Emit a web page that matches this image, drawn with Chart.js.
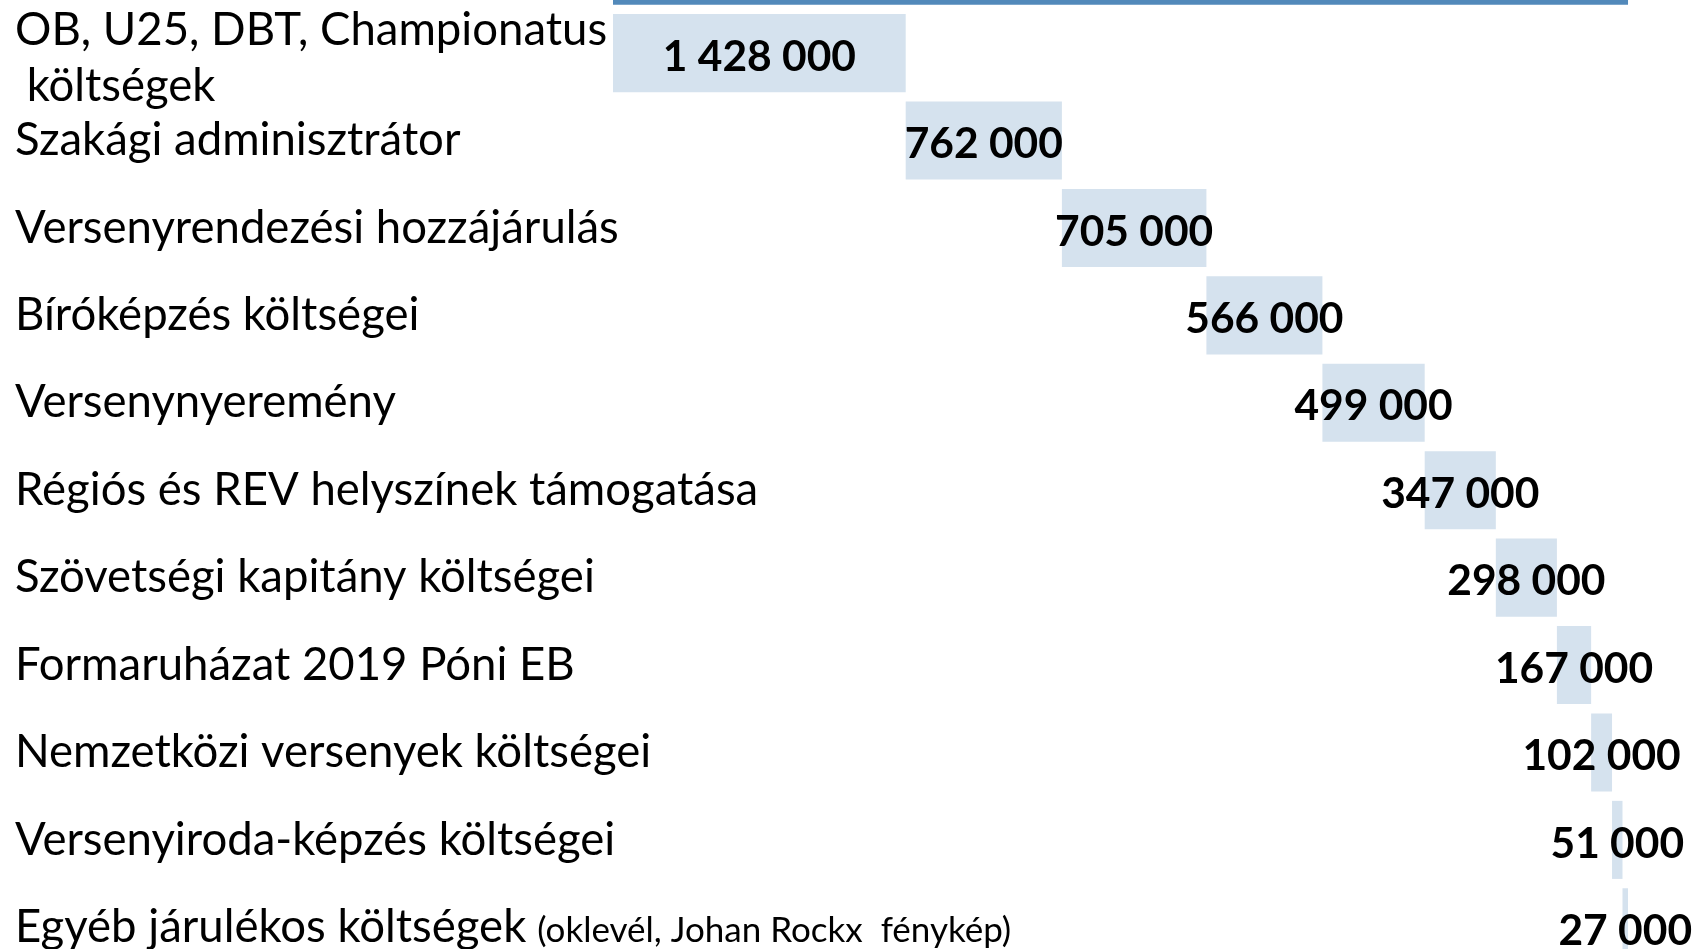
<!DOCTYPE html>
<html>
<head>
<meta charset="utf-8">
<script src="https://cdn.jsdelivr.net/npm/chart.js@4.4.0/dist/chart.umd.min.js"></script>
<style>
  html, body { margin: 0; padding: 0; background: #ffffff; overflow: hidden; width: 1701px; height: 949px; }
  #wrap { position: absolute; left: 0; top: -78px; width: 1701px; height: 1049px; }
</style>
</head>
<body>
<div id="wrap"><canvas id="c"></canvas></div>
<script>
// ---- data ----
const totalLabel = 'Összesen';
const totalValue = 4952000;
const categories = [
  ['OB, U25, DBT, Championatus', ' költségek'],
  ['Szakági adminisztrátor'],
  ['Versenyrendezési hozzájárulás'],
  ['Bíróképzés költségei'],
  ['Versenynyeremény'],
  ['Régiós és REV helyszínek támogatása'],
  ['Szövetségi kapitány költségei'],
  ['Formaruházat 2019 Póni EB'],
  ['Nemzetközi versenyek költségei'],
  ['Versenyiroda-képzés költségei'],
  ['Egyéb járulékos költségek']
];
const categoryNotes = ['', '', '', '', '', '', '', '', '', '', '(oklevél, Johan Rockx  fénykép)'];
const values = [1428000, 762000, 705000, 566000, 499000, 347000, 298000, 167000, 102000, 51000, 27000];

// ---- styles ----
const totalColor = '#5289BA';
const stepColor = '#D5E2EE';
const labelFont = 'Lato';

// build floating bar table (waterfall)
const labels = [totalLabel].concat(categories.map(c => c.join('')));
const ranges = [[0, totalValue]];
let run = 0;
values.forEach(v => { ranges.push([run, run + v]); run += v; });
const colors = [totalColor].concat(values.map(() => stepColor));

function fmt(v) {
  return String(v).replace(/\B(?=(\d{3})+(?!\d))/g, ' ');
}

const labelPlugin = {
  id: 'labels',
  afterDatasetsDraw(chart) {
    const ctx = chart.ctx;
    const yScale = chart.scales.y;
    const meta = chart.getDatasetMeta(0);
    ctx.save();
    ctx.fillStyle = '#000000';
    ctx.textBaseline = 'middle';
    // category labels
    for (let i = 0; i < categories.length; i++) {
      const yc = yScale.getPixelForValue(i + 1);
      const lines = categories[i];
      const lh = 56;
      const y0 = yc - (lines.length - 1) * lh / 2 + (lines.length > 1 ? 5 : 0);
      ctx.textAlign = 'left';
      lines.forEach((ln, k) => {
        ctx.font = '400 45.5px ' + labelFont;
        ctx.fillText(ln, 15, y0 + k * lh);
        if (k === lines.length - 1 && categoryNotes[i]) {
          const w = ctx.measureText(ln).width;
          ctx.font = '400 35px ' + labelFont;
          ctx.fillText(categoryNotes[i], 15 + w + 11, y0 + k * lh + 3);
        }
      });
    }
    // value labels
    ctx.font = '700 42.5px ' + labelFont;
    ctx.textAlign = 'center';
    for (let i = 0; i < values.length; i++) {
      const el = meta.data[i + 1];
      const cx = (el.x + el.base) / 2;
      ctx.fillText(fmt(values[i]), cx, el.y + 4);
    }
    ctx.restore();
  }
};

function build() {
  new Chart(document.getElementById('c'), {
    type: 'bar',
    data: {
      labels: labels,
      datasets: [{
        data: ranges,
        backgroundColor: colors,
        borderWidth: 0,
        barPercentage: 0.893,
        categoryPercentage: 1.0
      }]
    },
    options: {
      indexAxis: 'y',
      responsive: true,
      maintainAspectRatio: false,
      animation: false,
      layout: { padding: { left: 613, right: 0, top: 0, bottom: 0 } },
      scales: {
        x: { display: false, min: 0, max: 5308000 },
        y: { display: false }
      },
      plugins: { legend: { display: false }, tooltip: { enabled: false } }
    },
    plugins: [labelPlugin]
  });
}
Promise.all([
  document.fonts.load('400 45.5px Lato'),
  document.fonts.load('700 42.5px Lato')
]).then(build, build);
</script>
</body>
</html>
